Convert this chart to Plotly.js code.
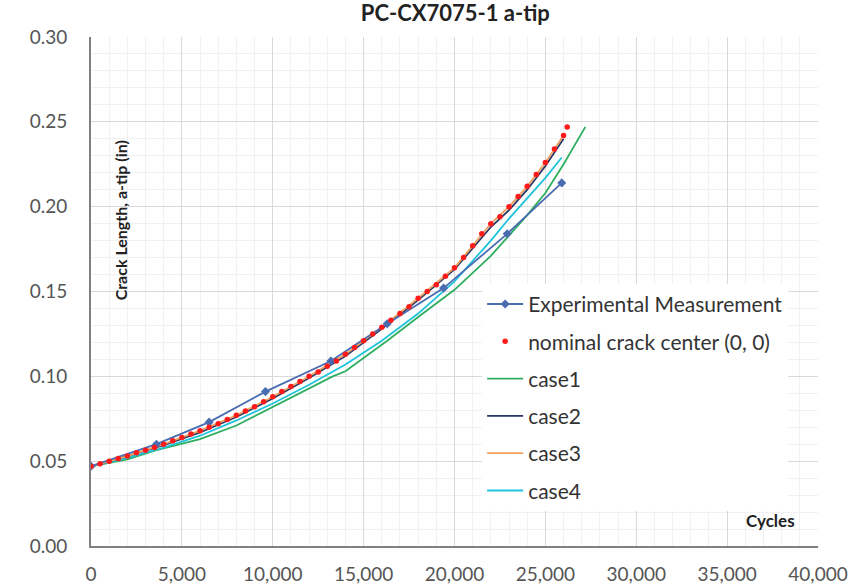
<!DOCTYPE html>
<html><head><meta charset="utf-8">
<script src="https://cdn.plot.ly/plotly-3.0.1.min.js"></script>
<style>body{margin:0;background:#fff}#c{width:864px;height:586px}</style>
</head><body><div id="c"></div>
<script>
// Experimental Measurement
const expX = [0, 3600, 6500, 9600, 13200, 16300, 19400, 22900, 25900];
const expY = [0.047, 0.060, 0.073, 0.091, 0.109, 0.131, 0.152, 0.184, 0.214];
// nominal crack center (0, 0)
const nomX = [0,500,1000,1500,2000,2500,3000,3500,4000,4500,5000,5500,6000,6500,7000,7500,8000,8500,9000,9500,10000,10500,11000,11500,12000,12500,13000,13500,14000,14500,15000,15500,16000,16500,17000,17500,18000,18500,19000,19500,20000,20500,21000,21500,22000,22500,23000,23500,24000,24500,25000,25500,26000,26200];
const nomY = [0.047,0.0485,0.050,0.0515,0.053,0.055,0.0565,0.058,0.060,0.062,0.064,0.066,0.068,0.070,0.072,0.0745,0.077,0.0795,0.082,0.085,0.088,0.091,0.094,0.097,0.100,0.1025,0.106,0.109,0.113,0.117,0.121,0.125,0.129,0.133,0.137,0.141,0.146,0.150,0.154,0.159,0.164,0.170,0.177,0.184,0.190,0.194,0.200,0.206,0.212,0.219,0.226,0.234,0.242,0.247];
// case1
const c1X = [0,2000,3600,6000,8000,9850,12000,13300,14000,16300,18000,20000,22000,23000,24000,25000,26000,27200];
const c1Y = [0.047,0.051,0.0565,0.063,0.071,0.081,0.093,0.100,0.103,0.121,0.135,0.151,0.171,0.183,0.195,0.208,0.225,0.247];
// case2
const c2X = [0,2000,4000,6000,8000,10000,12000,14000,16000,18000,20000,22000,23000,24000,25000,26000];
const c2Y = [0.047,0.053,0.0595,0.067,0.076,0.087,0.099,0.112,0.128,0.145,0.163,0.188,0.198,0.210,0.224,0.240];
// case3
const c3X = [0,2000,4000,6000,8000,10000,12000,14000,16000,18000,20000,22000,23000,24000,25000,26000];
const c3Y = [0.047,0.053,0.060,0.068,0.077,0.088,0.100,0.113,0.129,0.146,0.164,0.190,0.200,0.212,0.226,0.242];
// case4
const c4X = [0,2000,4000,6000,8000,10000,12000,14000,16000,18000,20000,22000,23000,24000,25000,25900];
const c4Y = [0.047,0.052,0.058,0.065,0.074,0.084,0.095,0.107,0.121,0.137,0.156,0.180,0.193,0.205,0.217,0.229];

const F = 'Lato, "Open Sans", "Liberation Sans", sans-serif';
const traces = [
  {x:c1X,y:c1Y,name:'case1',mode:'lines',line:{color:'#2fae5f',width:1.8},legendrank:3,legendgroup:'g3'},
  {x:c4X,y:c4Y,name:'case4',mode:'lines',line:{color:'#1ec3dc',width:1.8},legendrank:6,legendgroup:'g6'},
  {x:c2X,y:c2Y,name:'case2',mode:'lines',line:{color:'#2b3566',width:1.8},legendrank:4,legendgroup:'g4'},
  {x:c3X,y:c3Y,name:'case3',mode:'lines',line:{color:'#f0a060',width:1.8},legendrank:5,legendgroup:'g5'},
  {x:expX,y:expY,name:'Experimental Measurement',mode:'lines+markers',line:{color:'#4a6cb0',width:1.8},marker:{symbol:'diamond',size:7,color:'#4a6cb0'},legendrank:1,legendgroup:'g1'},
  {x:nomX,y:nomY,name:'nominal crack center (0, 0)',mode:'markers',marker:{color:'#ff1a1a',size:5.5},legendrank:2,legendgroup:'g2'}
];
const layout = {
  width:864,height:586,
  margin:{l:91,r:46,t:37,b:40},
  paper_bgcolor:'#fff',plot_bgcolor:'#fff',
  title:{text:'<b>PC-CX7075-1 a-tip</b>',font:{family:F,size:22,color:'#222'},x:0.527,xanchor:'center',y:0.977,yanchor:'middle'},
  xaxis:{range:[0,40000],dtick:5000,tickformat:',d',showgrid:true,gridcolor:'#d9d9d9',gridwidth:1,
    minor:{dtick:1000,showgrid:true,gridcolor:'#f1f1f1'},
    showline:true,linecolor:'#808080',linewidth:2,zeroline:false,ticks:'',ticklabelstandoff:10,
    tickfont:{family:F,size:19,color:'#555'}},
  yaxis:{range:[0,0.30],dtick:0.05,tickformat:'.2f',showgrid:true,gridcolor:'#d9d9d9',gridwidth:1,
    minor:{dtick:0.01,showgrid:true,gridcolor:'#f1f1f1'},
    showline:true,linecolor:'#808080',linewidth:2,zeroline:false,ticks:'',ticklabelstandoff:18,
    tickfont:{family:F,size:19,color:'#555'}},
  showlegend:true,
  legend:{x:0.538,y:0.515,xanchor:'left',yanchor:'top',bgcolor:'#fff',borderwidth:0,
    traceorder:'grouped',tracegroupgap:7,itemwidth:36,
    font:{family:F,size:21,color:'#333'}},
  annotations:[
    {text:'<b>Crack Length, a-tip (in)</b>',xref:'paper',yref:'paper',x:0.04,y:0.64,textangle:-90,showarrow:false,
     font:{family:F,size:16,color:'#222'},xanchor:'center',yanchor:'middle'},
    {text:'<b>Cycles</b>',xref:'paper',yref:'paper',x:0.935,y:0.05,showarrow:false,
     font:{family:F,size:17,color:'#222'},xanchor:'center',yanchor:'middle'}
  ]
};
Plotly.newPlot('c',traces,layout,{displayModeBar:false,staticPlot:true});
</script></body></html>
